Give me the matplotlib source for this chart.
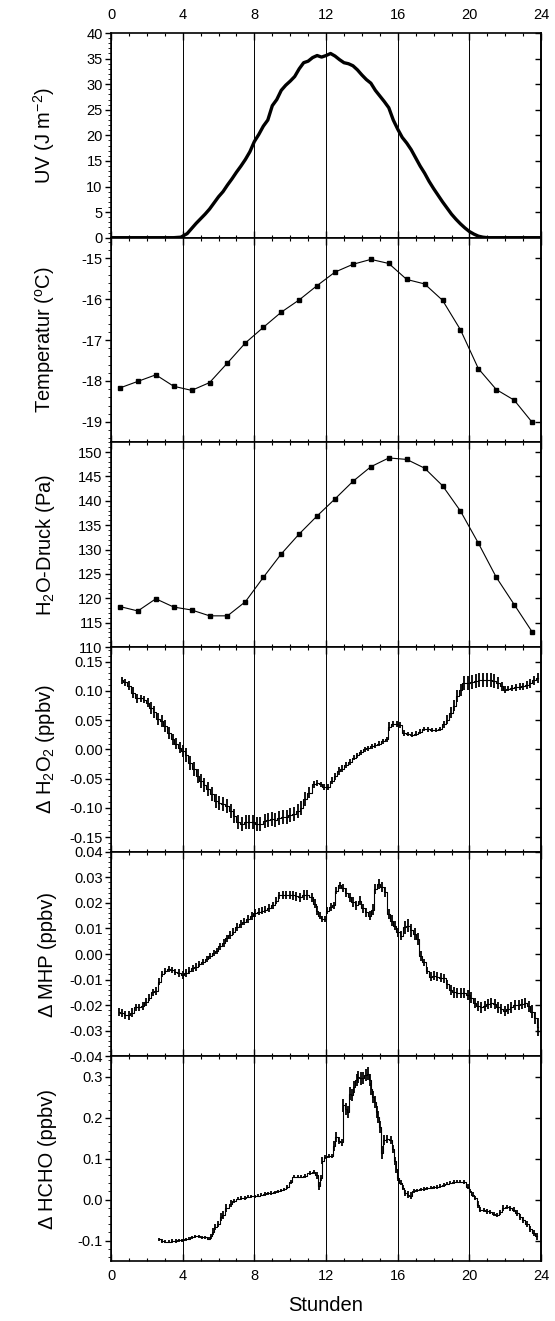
import matplotlib
matplotlib.use('Agg')
import matplotlib.pyplot as plt
from matplotlib.ticker import MultipleLocator, FormatStrFormatter

plt.rcParams['font.family'] = ['Liberation Sans', 'DejaVu Sans']
plt.rcParams['mathtext.default'] = 'regular'
plt.rcParams['axes.unicode_minus'] = False

# UV irradiance (J m-2)
uv_t = [0, 3.5, 3.9, 4.25, 4.5, 4.75, 5.0, 5.25, 5.5, 5.75, 6.0, 6.25, 6.5, 6.75,
        7.0, 7.25, 7.5, 7.75, 8.0, 8.25, 8.5, 8.75, 9.0, 9.25, 9.5, 9.75, 10.0,
        10.25, 10.5, 10.75, 11.0, 11.25, 11.5, 11.75, 12.0, 12.25, 12.5, 12.75,
        13.0, 13.25, 13.5, 13.75, 14.0, 14.25, 14.5, 14.75, 15.0, 15.25, 15.5,
        15.75, 16.0, 16.25, 16.5, 16.75, 17.0, 17.25, 17.5, 17.75, 18.0, 18.25,
        18.5, 18.75, 19.0, 19.25, 19.5, 19.75, 20.0, 20.25, 20.5, 20.75, 21.0, 24]
uv_v = [0, 0, 0.1, 0.8, 1.8, 2.8, 3.7, 4.6, 5.6, 6.8, 8.0, 9.0, 10.3, 11.5,
        12.8, 14.0, 15.3, 16.8, 18.8, 20.2, 21.8, 23.0, 25.8, 27.0, 28.8, 29.8, 30.6,
        31.5, 33.0, 34.2, 34.5, 35.2, 35.6, 35.3, 35.6, 36.0, 35.5, 34.8,
        34.2, 34.0, 33.6, 32.8, 31.8, 30.9, 30.2, 28.8, 27.7, 26.6, 25.4,
        23.0, 21.2, 19.6, 18.5, 17.2, 15.6, 14.0, 12.6, 11.0, 9.6, 8.3,
        7.0, 5.8, 4.6, 3.6, 2.7, 1.9, 1.2, 0.7, 0.3, 0.1, 0, 0]

# hourly means
hour_t = [0.5, 1.5, 2.5, 3.5, 4.5, 5.5, 6.5, 7.5, 8.5, 9.5, 10.5, 11.5,
          12.5, 13.5, 14.5, 15.5, 16.5, 17.5, 18.5, 19.5, 20.5, 21.5, 22.5, 23.5]
temp = [-18.17, -18.01, -17.85, -18.13, -18.23, -18.04, -17.56, -17.07,
        -16.69, -16.32, -16.02, -15.67, -15.34, -15.15, -15.03, -15.13,
        -15.52, -15.63, -16.03, -16.75, -17.70, -18.21, -18.47, -19.01]
h2o = [118.3, 117.4, 119.9, 118.2, 117.6, 116.4, 116.4, 119.3, 124.3, 129.1,
       133.2, 136.9, 140.4, 144.0, 147.0, 148.8, 148.5, 146.7, 143.1, 137.9,
       131.3, 124.3, 118.7, 113.1]

# delta H2O2 (ppbv)
h2o2_t = [0.60, 0.78, 1.02, 1.25, 1.45, 1.68, 1.86, 2.05, 2.23, 2.42,
          2.64, 2.83, 3.02, 3.24, 3.45, 3.63, 3.84, 4.02, 4.21, 4.39,
          4.62, 4.84, 5.03, 5.21, 5.40, 5.62, 5.85, 6.05, 6.26, 6.48,
          6.70, 6.89, 7.11, 7.30, 7.52, 7.71, 7.91, 8.12, 8.34, 8.57,
          8.75, 8.98, 9.16, 9.35, 9.57, 9.80, 9.98, 10.20, 10.43, 10.61,
          10.84, 11.06, 11.32, 11.51, 11.69, 11.88, 12.10, 12.33, 12.51, 12.70,
          12.89, 13.13, 13.33, 13.56, 13.74, 13.93, 14.15, 14.34, 14.57, 14.75,
          14.97, 15.20, 15.42, 15.53, 15.76, 15.94, 16.13, 16.35, 16.58, 16.80,
          17.02, 17.24, 17.47, 17.69, 17.91, 18.14, 18.36, 18.58, 18.77, 18.96,
          19.15, 19.33, 19.52, 19.70, 19.93, 20.15, 20.34, 20.56, 20.78, 20.97,
          21.19, 21.38, 21.60, 21.79, 21.97, 22.16, 22.39, 22.60, 22.80, 23.00,
          23.20, 23.40, 23.60, 23.80]
h2o2_v = [0.118, 0.115, 0.109, 0.097, 0.087, 0.087, 0.085, 0.080, 0.071, 0.064,
          0.052, 0.048, 0.040, 0.028, 0.017, 0.010, 0.003, -0.003, -0.010, -0.023,
          -0.033, -0.046, -0.054, -0.061, -0.068, -0.077, -0.088, -0.091, -0.094, -0.097,
          -0.105, -0.114, -0.125, -0.128, -0.125, -0.124, -0.124, -0.128, -0.128, -0.122,
          -0.120, -0.119, -0.120, -0.118, -0.116, -0.115, -0.113, -0.111, -0.105, -0.100,
          -0.085, -0.074, -0.060, -0.057, -0.060, -0.064, -0.065, -0.054, -0.046, -0.037,
          -0.033, -0.027, -0.022, -0.014, -0.010, -0.005, 0.000, 0.002, 0.005, 0.007,
          0.010, 0.014, 0.017, 0.039, 0.043, 0.043, 0.041, 0.028, 0.026, 0.025,
          0.027, 0.030, 0.035, 0.034, 0.033, 0.033, 0.035, 0.043, 0.051, 0.063,
          0.075, 0.091, 0.102, 0.113, 0.113, 0.115, 0.117, 0.118, 0.118, 0.118,
          0.118, 0.117, 0.114, 0.108, 0.102, 0.104, 0.105, 0.106, 0.107, 0.108,
          0.110, 0.113, 0.118, 0.122]
h2o2_e = [0.006, 0.006, 0.008, 0.010, 0.008, 0.006, 0.006, 0.008, 0.010, 0.010,
          0.010, 0.010, 0.010, 0.010, 0.010, 0.010, 0.010, 0.010, 0.012, 0.012,
          0.012, 0.012, 0.012, 0.012, 0.012, 0.012, 0.012, 0.012, 0.012, 0.012,
          0.012, 0.012, 0.012, 0.012, 0.012, 0.012, 0.012, 0.012, 0.012, 0.012,
          0.012, 0.012, 0.012, 0.012, 0.012, 0.012, 0.012, 0.012, 0.012, 0.012,
          0.012, 0.010, 0.006, 0.005, 0.005, 0.005, 0.005, 0.006, 0.006, 0.006,
          0.006, 0.005, 0.005, 0.005, 0.004, 0.004, 0.004, 0.004, 0.004, 0.004,
          0.004, 0.004, 0.004, 0.008, 0.005, 0.005, 0.005, 0.005, 0.004, 0.004,
          0.004, 0.004, 0.004, 0.004, 0.004, 0.004, 0.004, 0.006, 0.008, 0.010,
          0.010, 0.010, 0.010, 0.012, 0.012, 0.012, 0.012, 0.012, 0.012, 0.012,
          0.012, 0.012, 0.010, 0.008, 0.006, 0.005, 0.005, 0.006, 0.006, 0.006,
          0.007, 0.008, 0.008, 0.008]

# delta MHP (ppbv)
mhp_t = [0.43, 0.61, 0.80, 0.99, 1.17, 1.40, 1.58, 1.77, 1.96, 2.14,
         2.33, 2.51, 2.70, 2.85, 3.04, 3.22, 3.41, 3.59, 3.78, 4.00,
         4.19, 4.38, 4.56, 4.75, 4.93, 5.16, 5.34, 5.53, 5.72, 5.90,
         6.09, 6.28, 6.46, 6.65, 6.83, 7.02, 7.24, 7.43, 7.62, 7.84,
         8.06, 8.25, 8.44, 8.62, 8.81, 9.03, 9.22, 9.40, 9.59, 9.78,
         9.96, 10.15, 10.34, 10.52, 10.75, 10.93, 11.21, 11.36, 11.51, 11.64,
         11.77, 11.92, 12.07, 12.25, 12.44, 12.57, 12.76, 12.94, 13.13, 13.32,
         13.50, 13.69, 13.87, 14.06, 14.25, 14.43, 14.62, 14.75, 14.94, 15.12,
         15.31, 15.49, 15.68, 15.83, 16.01, 16.20, 16.39, 16.57, 16.76, 16.94,
         17.13, 17.28, 17.47, 17.65, 17.84, 18.03, 18.21, 18.40, 18.59, 18.77,
         18.96, 19.14, 19.33, 19.52, 19.70, 19.92, 20.11, 20.30, 20.48, 20.67,
         20.85, 21.04, 21.23, 21.41, 21.60, 21.78, 21.97, 22.16, 22.34, 22.57,
         22.75, 22.93, 23.12, 23.30, 23.50, 23.68, 23.85]
mhp_v = [-0.0226, -0.0231, -0.0239, -0.0239, -0.0229, -0.0209, -0.0209, -0.0203, -0.0187, -0.0170,
         -0.0150, -0.0144, -0.0108, -0.0078, -0.0065, -0.0059, -0.0061, -0.0069, -0.0075, -0.0082,
         -0.0075, -0.0065, -0.0056, -0.0052, -0.0039, -0.0030, -0.0020, -0.0007, 0.0004, 0.0013,
         0.0030, 0.0043, 0.0061, 0.0075, 0.0088, 0.0105, 0.0118, 0.0127, 0.0137, 0.0148,
         0.0161, 0.0166, 0.0170, 0.0174, 0.0179, 0.0190, 0.0209, 0.0229, 0.0231, 0.0231,
         0.0231, 0.0229, 0.0226, 0.0222, 0.0231, 0.0231, 0.0222, 0.0196, 0.0170, 0.0150,
         0.0137, 0.0137, 0.0170, 0.0183, 0.0190, 0.0248, 0.0268, 0.0258, 0.0239, 0.0222,
         0.0203, 0.0190, 0.0209, 0.0179, 0.0163, 0.0150, 0.0174, 0.0255, 0.0275, 0.0261,
         0.0242, 0.0157, 0.0131, 0.0111, 0.0085, 0.0072, 0.0105, 0.0111, 0.0092, 0.0078,
         0.0059, -0.0007, -0.0033, -0.0065, -0.0088, -0.0085, -0.0088, -0.0092, -0.0095, -0.0118,
         -0.0140, -0.0150, -0.0153, -0.0153, -0.0153, -0.0161, -0.0170, -0.0190, -0.0203, -0.0209,
         -0.0203, -0.0196, -0.0190, -0.0196, -0.0209, -0.0216, -0.0222, -0.0216, -0.0209, -0.0200,
         -0.0200, -0.0196, -0.0190, -0.0205, -0.0225, -0.0250, -0.0285]
mhp_e = [0.0015, 0.0015, 0.0015, 0.0018, 0.0018, 0.0015, 0.0015, 0.0015, 0.0015, 0.0015,
         0.0015, 0.0015, 0.0015, 0.0012, 0.0012, 0.0012, 0.0012, 0.0012, 0.0015, 0.0015,
         0.0015, 0.0015, 0.0015, 0.0015, 0.0012, 0.0012, 0.0012, 0.0012, 0.0012, 0.0012,
         0.0015, 0.0015, 0.0015, 0.0015, 0.0015, 0.0015, 0.0015, 0.0015, 0.0015, 0.0015,
         0.0015, 0.0015, 0.0015, 0.0015, 0.0015, 0.0015, 0.0015, 0.0015, 0.0015, 0.0015,
         0.0015, 0.0018, 0.0018, 0.0018, 0.0018, 0.0018, 0.0018, 0.0018, 0.0018, 0.0015,
         0.0012, 0.0012, 0.0015, 0.0015, 0.0015, 0.0015, 0.0015, 0.0015, 0.0018, 0.0018,
         0.0018, 0.0018, 0.0018, 0.0018, 0.0018, 0.0018, 0.0020, 0.0020, 0.0020, 0.0020,
         0.0020, 0.0020, 0.0020, 0.0018, 0.0018, 0.0018, 0.0025, 0.0025, 0.0025, 0.0025,
         0.0025, 0.0020, 0.0015, 0.0015, 0.0018, 0.0018, 0.0018, 0.0018, 0.0018, 0.0018,
         0.0020, 0.0020, 0.0020, 0.0020, 0.0020, 0.0020, 0.0020, 0.0020, 0.0020, 0.0020,
         0.0020, 0.0020, 0.0020, 0.0020, 0.0020, 0.0020, 0.0020, 0.0020, 0.0020, 0.0020,
         0.0020, 0.0020, 0.0020, 0.0020, 0.0025, 0.0025, 0.0035]

# delta HCHO (ppbv)
hcho_t = [2.67, 2.86, 3.04, 3.23, 3.41, 3.60, 3.78, 3.97, 4.16, 4.34,
          4.53, 4.71, 4.90, 5.08, 5.27, 5.45, 5.57, 5.70, 5.83, 5.97,
          6.16, 6.25, 6.44, 6.68, 6.86, 7.09, 7.27, 7.46, 7.64, 7.83,
          8.01, 8.20, 8.39, 8.57, 8.76, 8.94, 9.13, 9.31, 9.50, 9.68,
          9.83, 10.02, 10.20, 10.42, 10.61, 10.83, 11.08, 11.34, 11.47, 11.58,
          11.71, 11.80, 11.95, 12.14, 12.32, 12.45, 12.58, 12.73, 12.88, 12.97,
          13.10, 13.21, 13.32, 13.43, 13.56, 13.70, 13.80, 13.93, 14.07, 14.21,
          14.32, 14.44, 14.53, 14.62, 14.73, 14.82, 14.92, 14.99, 15.10, 15.23,
          15.42, 15.60, 15.73, 15.84, 15.92, 16.03, 16.16, 16.29, 16.43, 16.58,
          16.73, 16.90, 17.08, 17.27, 17.45, 17.64, 17.83, 18.01, 18.20, 18.38,
          18.57, 18.75, 18.94, 19.12, 19.31, 19.49, 19.68, 19.90, 20.05, 20.18,
          20.33, 20.46, 20.61, 20.79, 20.98, 21.16, 21.35, 21.53, 21.72, 21.90,
          22.09, 22.28, 22.46, 22.65, 22.83, 23.00, 23.20, 23.40, 23.60, 23.75]
hcho_v = [-0.097, -0.101, -0.103, -0.103, -0.101, -0.101, -0.099, -0.099, -0.097, -0.095,
          -0.092, -0.090, -0.090, -0.092, -0.092, -0.095, -0.089, -0.078, -0.067, -0.059,
          -0.043, -0.037, -0.021, -0.010, -0.004, 0.002, 0.004, 0.004, 0.007, 0.008,
          0.008, 0.010, 0.012, 0.014, 0.015, 0.016, 0.018, 0.020, 0.023, 0.025,
          0.031, 0.043, 0.056, 0.056, 0.056, 0.058, 0.064, 0.067, 0.059, 0.033,
          0.053, 0.095, 0.105, 0.107, 0.107, 0.131, 0.152, 0.144, 0.140, 0.230,
          0.222, 0.214, 0.259, 0.255, 0.275, 0.292, 0.300, 0.296, 0.298, 0.304,
          0.308, 0.292, 0.271, 0.251, 0.238, 0.214, 0.201, 0.177, 0.115, 0.146,
          0.148, 0.146, 0.123, 0.095, 0.074, 0.053, 0.041, 0.029, 0.016, 0.012,
          0.010, 0.021, 0.023, 0.025, 0.026, 0.028, 0.029, 0.030, 0.031, 0.033,
          0.036, 0.039, 0.041, 0.043, 0.044, 0.044, 0.043, 0.031, 0.021, 0.012,
          0.004, -0.012, -0.025, -0.026, -0.029, -0.031, -0.035, -0.037, -0.031, -0.021,
          -0.018, -0.021, -0.025, -0.033, -0.042, -0.050, -0.060, -0.072, -0.082, -0.090]
hcho_e = [0.004, 0.004, 0.004, 0.004, 0.004, 0.004, 0.004, 0.004, 0.004, 0.004,
          0.004, 0.004, 0.004, 0.004, 0.004, 0.004, 0.006, 0.008, 0.008, 0.008,
          0.010, 0.010, 0.010, 0.008, 0.005, 0.004, 0.004, 0.004, 0.004, 0.004,
          0.004, 0.004, 0.004, 0.004, 0.004, 0.004, 0.004, 0.004, 0.004, 0.004,
          0.004, 0.006, 0.004, 0.004, 0.004, 0.004, 0.005, 0.005, 0.008, 0.010,
          0.008, 0.008, 0.005, 0.005, 0.005, 0.012, 0.012, 0.008, 0.008, 0.015,
          0.015, 0.015, 0.015, 0.015, 0.015, 0.015, 0.015, 0.015, 0.015, 0.015,
          0.015, 0.015, 0.015, 0.015, 0.015, 0.015, 0.015, 0.015, 0.015, 0.012,
          0.010, 0.010, 0.010, 0.010, 0.010, 0.008, 0.006, 0.006, 0.008, 0.008,
          0.008, 0.005, 0.004, 0.004, 0.004, 0.004, 0.004, 0.004, 0.004, 0.004,
          0.004, 0.004, 0.004, 0.004, 0.004, 0.004, 0.004, 0.006, 0.006, 0.006,
          0.006, 0.008, 0.006, 0.005, 0.005, 0.005, 0.005, 0.005, 0.006, 0.008,
          0.006, 0.006, 0.006, 0.008, 0.008, 0.008, 0.008, 0.008, 0.008, 0.008]


def style_axis(ax, ylim, major, minor, fmt, ylabel):
    ax.set_xlim(0, 24)
    ax.set_ylim(*ylim)
    ax.xaxis.set_major_locator(MultipleLocator(4))
    ax.xaxis.set_minor_locator(MultipleLocator(1))
    ax.yaxis.set_major_locator(MultipleLocator(major))
    ax.yaxis.set_minor_locator(MultipleLocator(minor))
    ax.yaxis.set_major_formatter(FormatStrFormatter(fmt))
    ax.grid(axis='x', which='major', color='k', lw=0.7)
    ax.tick_params(axis='x', which='both', direction='in', top=True, bottom=True,
                   labelbottom=False, labelsize=10.5)
    ax.tick_params(axis='x', which='major', length=5, width=1)
    ax.tick_params(axis='x', which='minor', length=2.5, width=0.8)
    ax.tick_params(axis='y', which='major', direction='out', length=4, width=1,
                   labelsize=10.5, pad=2)
    ax.tick_params(axis='y', which='minor', direction='out', length=2, width=0.6)
    for s in ax.spines.values():
        s.set_linewidth(1.2)
    # inward ticks on the right-hand side
    right = ax.secondary_yaxis('right')
    right.yaxis.set_major_locator(MultipleLocator(major))
    right.tick_params(direction='in', length=4, width=1, labelright=False)
    right.spines['right'].set_linewidth(1.2)
    ax.set_ylabel(ylabel, fontsize=14.5)
    ax.yaxis.set_label_coords(-0.126, 0.5)


def step_series(ax, t, v, e):
    ax.step(t, v, where='mid', color='k', lw=0.8)
    ax.errorbar(t, v, yerr=e, fmt='none', ecolor='k', elinewidth=1.3)


fig = plt.figure(figsize=(5.55, 13.21), dpi=100)
gs = fig.add_gridspec(6, 1, left=0.2, right=0.975, top=0.975, bottom=0.0454, hspace=0)
axes = gs.subplots()

ax = axes[0]
ax.plot(uv_t, uv_v, color='k', lw=2.4)
style_axis(ax, (0, 40), 5, 1, '%d', 'UV (J m$^{-2}$)')
ax.tick_params(axis='x', labeltop=True, pad=8)

ax = axes[1]
ax.plot(hour_t, temp, '-s', color='k', lw=0.8, ms=3)
style_axis(ax, (-19.5, -14.5), 1, 0.2, '%d', 'Temperatur ($^{o}$C)')

ax = axes[2]
ax.plot(hour_t, h2o, '-s', color='k', lw=0.8, ms=3)
style_axis(ax, (110, 152), 5, 1, '%d', 'H$_2$O-Druck (Pa)')

ax = axes[3]
step_series(ax, h2o2_t, h2o2_v, h2o2_e)
style_axis(ax, (-0.175, 0.175), 0.05, 0.01, '%.2f', 'Δ H$_2$O$_2$ (ppbv)')

ax = axes[4]
step_series(ax, mhp_t, mhp_v, mhp_e)
style_axis(ax, (-0.04, 0.04), 0.01, 0.002, '%.2f', 'Δ MHP (ppbv)')

ax = axes[5]
step_series(ax, hcho_t, hcho_v, hcho_e)
style_axis(ax, (-0.15, 0.35), 0.1, 0.02, '%.1f', 'Δ HCHO (ppbv)')
ax.tick_params(axis='x', labelbottom=True, pad=6)
ax.set_xlabel('Stunden', fontsize=14.5, labelpad=9)

fig.savefig('out.png', dpi=100)
